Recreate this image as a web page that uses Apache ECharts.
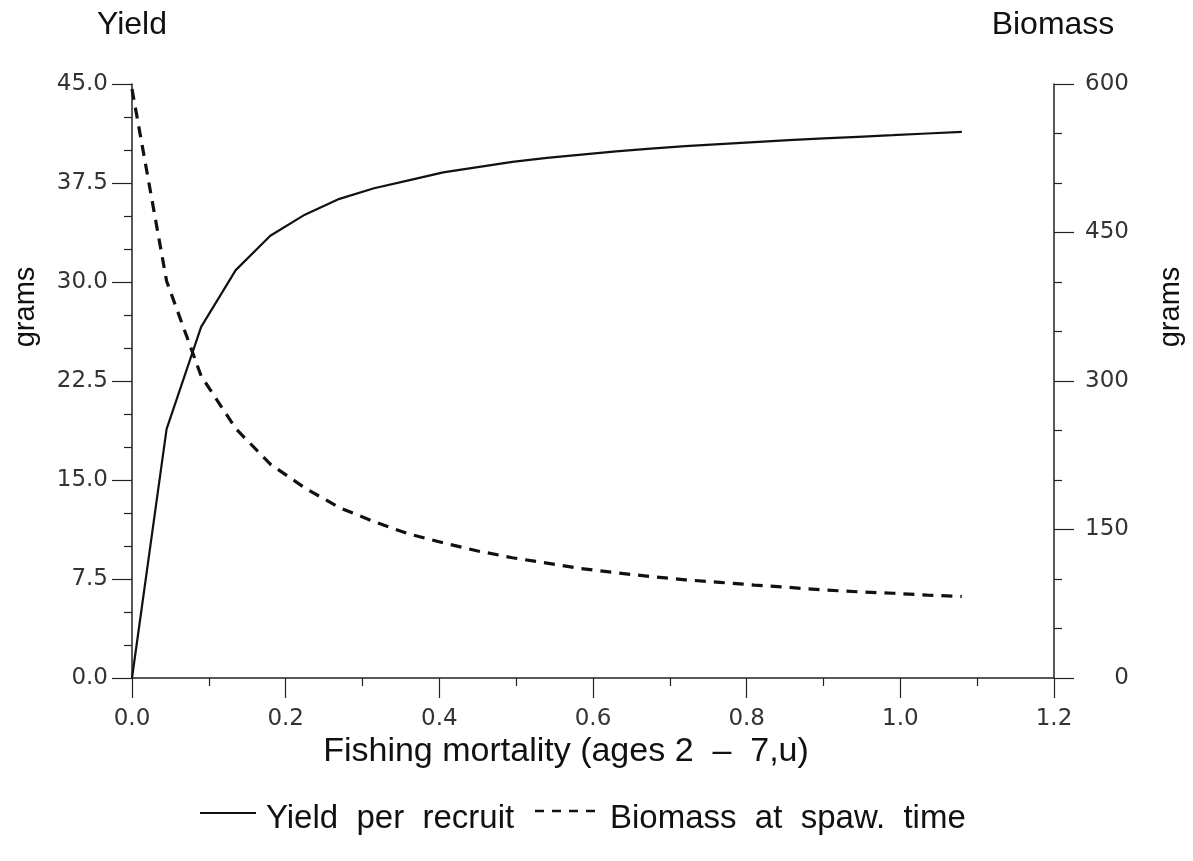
<!DOCTYPE html>
<html>
<head>
<meta charset="utf-8">
<script src="https://cdn.jsdelivr.net/npm/echarts@6/dist/echarts.min.js"></script>
<style>html,body{margin:0;padding:0;background:#fff}#c{width:1193px;height:861px}</style>
</head>
<body>
<div id="c"></div>
<script>
// Fishing mortality (x values)
var fishingMortality = [0, 0.045, 0.09, 0.135, 0.18, 0.225, 0.27, 0.315, 0.36, 0.405, 0.45, 0.495, 0.54, 0.585, 0.63, 0.675, 0.72, 0.765, 0.81, 0.855, 0.9, 0.945, 0.99, 1.035, 1.08];
// Yield per recruit (grams, left axis)
var yieldPerRecruit = [0, 18.86, 26.6, 30.9, 33.5, 35.1, 36.3, 37.1, 37.7, 38.3, 38.7, 39.1, 39.4, 39.65, 39.9, 40.1, 40.3, 40.45, 40.6, 40.75, 40.88, 41.0, 41.12, 41.25, 41.38];
// Biomass at spawning time (grams, right axis)
var biomassSpawn = [595, 401, 305, 252, 216, 192, 172, 158, 145.5, 136.5, 128.3, 121.5, 116, 110.5, 106.3, 102.5, 99.2, 96.6, 93.9, 91.5, 88.9, 87.1, 85.6, 83.8, 82.3];
var seriesNames = ['Yield per recruit', 'Biomass at spaw. time'];
var xTitle = 'Fishing mortality (ages 2  \u2013  7,u)';
var leftTitle = 'Yield', rightTitle = 'Biomass', unitLabel = 'grams';

function pairs(xs, ys) { return xs.map(function (x, i) { return [x, ys[i]]; }); }
function spaced(s) { return s.split(' ').join('  '); }

var tickColor = '#222';
var labelStyle = { color: '#333', fontFamily: 'DejaVu Sans', fontSize: 23 };
var bigFont = '32px "Liberation Sans"';

var chart = echarts.init(document.getElementById('c'), null, { renderer: 'canvas' });
chart.setOption({
  animation: false,
  backgroundColor: '#fff',
  grid: { left: 132, right: 139, top: 84, bottom: 183, containLabel: false },
  xAxis: {
    type: 'value', min: 0, max: 1.2, interval: 0.2,
    axisLine: { show: true, onZero: false, lineStyle: { color: tickColor, width: 1.5 } },
    axisTick: { show: true, length: 20, lineStyle: { color: tickColor, width: 1.2 } },
    minorTick: { show: true, splitNumber: 2, length: 8, lineStyle: { color: tickColor, width: 1.2 } },
    splitLine: { show: false },
    axisLabel: Object.assign({ margin: 30, formatter: function (v) { return v.toFixed(1); } }, labelStyle)
  },
  yAxis: [{
    type: 'value', min: 0, max: 45, interval: 7.5, position: 'left',
    axisLine: { show: true, lineStyle: { color: tickColor, width: 1.5 } },
    axisTick: { show: true, length: 20, lineStyle: { color: tickColor, width: 1.2 } },
    minorTick: { show: true, splitNumber: 3, length: 8, lineStyle: { color: tickColor, width: 1.2 } },
    splitLine: { show: false },
    axisLabel: Object.assign({ margin: 24, formatter: function (v) { return v.toFixed(1); } }, labelStyle)
  }, {
    type: 'value', min: 0, max: 600, interval: 150, position: 'right',
    axisLine: { show: true, lineStyle: { color: tickColor, width: 1.5 } },
    axisTick: { show: true, length: 20, lineStyle: { color: tickColor, width: 1.2 } },
    minorTick: { show: true, splitNumber: 3, length: 8, lineStyle: { color: tickColor, width: 1.2 } },
    splitLine: { show: false },
    axisLabel: Object.assign({ margin: 75, align: 'right' }, labelStyle)
  }],
  series: [{
    name: seriesNames[0], type: 'line', yAxisIndex: 0, symbol: 'none', smooth: false,
    lineStyle: { color: '#111', width: 2.2, type: 'solid' },
    data: pairs(fishingMortality, yieldPerRecruit)
  }, {
    name: seriesNames[1], type: 'line', yAxisIndex: 1, symbol: 'none', smooth: false,
    lineStyle: { color: '#111', width: 3.2, type: [11, 8] },
    data: pairs(fishingMortality, biomassSpawn)
  }],
  graphic: [
    { type: 'text', x: 132, y: 25, style: { text: leftTitle, font: bigFont, fill: '#111', textAlign: 'center', textVerticalAlign: 'middle' } },
    { type: 'text', x: 1053, y: 25, style: { text: rightTitle, font: bigFont, fill: '#111', textAlign: 'center', textVerticalAlign: 'middle' } },
    { type: 'text', x: 26, y: 307, rotation: Math.PI / 2, style: { text: unitLabel, font: '29px "Liberation Sans"', fill: '#111', textAlign: 'center', textVerticalAlign: 'middle' } },
    { type: 'text', x: 1171, y: 307, rotation: Math.PI / 2, style: { text: unitLabel, font: '29px "Liberation Sans"', fill: '#111', textAlign: 'center', textVerticalAlign: 'middle' } },
    { type: 'text', x: 566, y: 752, style: { text: xTitle, font: '34px "Liberation Sans"', fill: '#111', textAlign: 'center', textVerticalAlign: 'middle' } },
    // legend
    { type: 'line', shape: { x1: 200, y1: 813, x2: 256, y2: 813 }, style: { stroke: '#111', lineWidth: 2 } },
    { type: 'text', x: 266, y: 819, style: { text: spaced(seriesNames[0]), font: '33px "Liberation Sans"', fill: '#111', textAlign: 'left', textVerticalAlign: 'middle' } },
    { type: 'line', shape: { x1: 535, y1: 811, x2: 600, y2: 811 }, style: { stroke: '#111', lineWidth: 2.5, lineDash: [9, 8] } },
    { type: 'text', x: 610, y: 819, style: { text: spaced(seriesNames[1]), font: '33px "Liberation Sans"', fill: '#111', textAlign: 'left', textVerticalAlign: 'middle' } }
  ]
});
</script>
</body>
</html>
